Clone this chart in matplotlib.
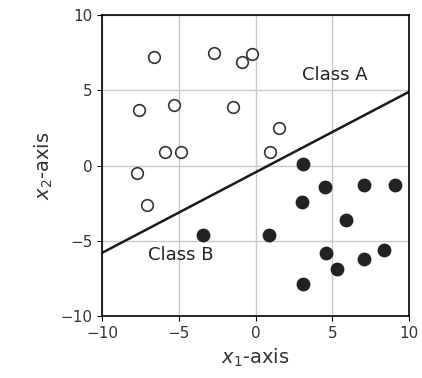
import numpy as np
import matplotlib
matplotlib.use("Agg")
import matplotlib.pyplot as plt

# class A (open circles)
a_x = [-6.6, -2.7, -0.9, -0.2, -7.6, -5.3, -1.5, 1.5, -5.9, -4.85, 0.95, -7.7, -7.1]
a_y = [7.2, 7.5, 6.9, 7.4, 3.7, 4.0, 3.9, 2.5, 0.9, 0.9, 0.9, -0.5, -2.6]

# class B (filled circles)
b_x = [3.1, 4.5, 7.1, 9.1, 3.0, 5.9, -3.4, 0.9, 4.6, 7.1, 8.4, 5.3, 3.1]
b_y = [0.1, -1.4, -1.3, -1.3, -2.4, -3.6, -4.6, -4.6, -5.8, -6.2, -5.6, -6.9, -7.9]

# separating line y = w*x + b
line_w = 0.535
line_b = -0.45

ticks = [-10, -5, 0, 5, 10]

fig = plt.figure(figsize=(4.22, 3.78), dpi=100)
ax = fig.add_axes([0.242, 0.164, 0.727, 0.796])

ax.grid(True, color="#c8c8c8", lw=1, zorder=0)
xs = np.array([-10, 10])
ax.plot(xs, line_w * xs + line_b, color="#1a1a1a", lw=1.8, zorder=2)
ax.scatter(a_x, a_y, s=70, facecolors="white", edgecolors="#333333", linewidths=1.2, zorder=3)
ax.scatter(b_x, b_y, s=80, color="#222222", zorder=3)

ax.text(5.2, 6.0, "Class A", fontsize=13, color="#222222", ha="center", va="center")
ax.text(-4.87, -5.93, "Class B", fontsize=13, color="#222222", ha="center", va="center")

ax.set_xlim(-10, 10)
ax.set_ylim(-10, 10)
ax.set_xticks(ticks)
ax.set_yticks(ticks)
ax.tick_params(labelsize=11, labelcolor="#333333")
ax.set_xlabel("$x_1$-axis", fontsize=14, color="#333333")
ax.set_ylabel("$x_2$-axis", fontsize=14, color="#333333")
for sp in ax.spines.values():
    sp.set_linewidth(1.2)

fig.savefig("out.png", dpi=100)
